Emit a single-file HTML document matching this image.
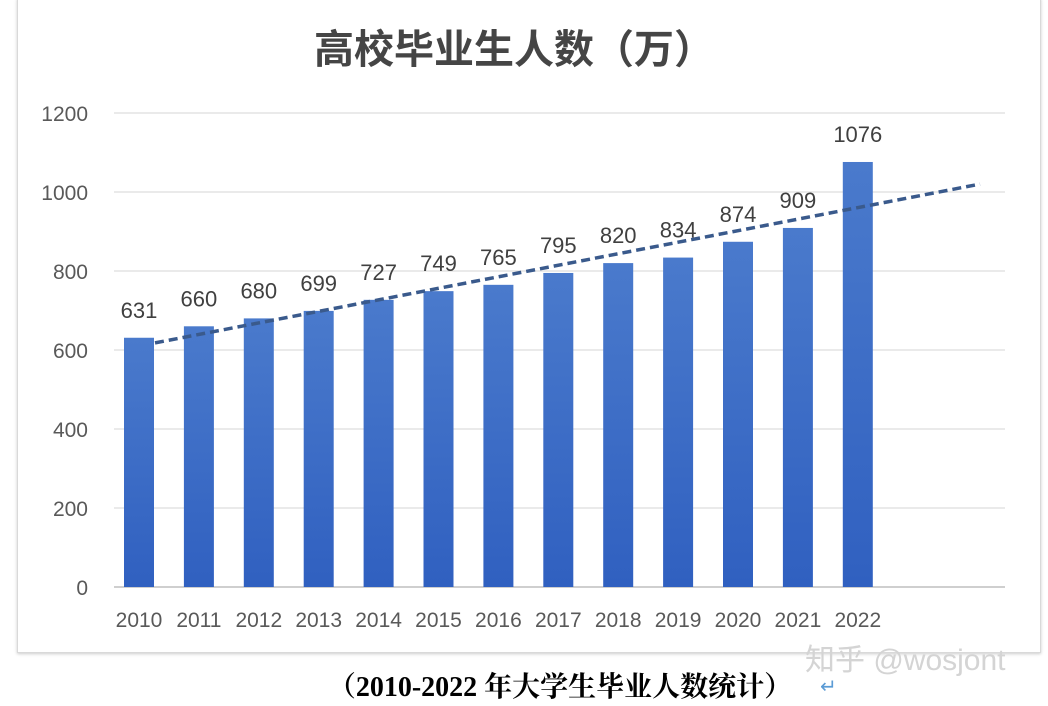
<!DOCTYPE html>
<html><head><meta charset="utf-8">
<style>
body{margin:0;width:1048px;height:706px;background:#fff;overflow:hidden;font-family:"Liberation Sans","Noto Sans CJK SC",sans-serif}
#frame{position:absolute;left:17px;top:-2px;width:1022px;height:653px;border:1px solid #d9d9d9;box-shadow:0 1px 3px #ccc}
</style></head><body>
<div id="frame"></div>
<svg id="chart" width="1048" height="706" style="position:absolute;left:0;top:0">
<text x="514" y="63" text-anchor="middle" font-size="40" font-weight="bold" fill="#454545" font-family="Liberation Sans,Noto Sans CJK SC,sans-serif">高校毕业生人数（万）</text>
<g id="grid"></g><g id="bars"></g><g id="labels"></g>
<text x="560" y="696" text-anchor="middle" font-size="28" font-weight="bold" fill="#000" font-family="Liberation Serif,Noto Serif CJK SC,serif">（2010-2022 年大学生毕业人数统计）</text>
<text x="820" y="693" font-size="20" fill="#5b9bd5">↵</text>
<text x="805" y="670" font-size="30" fill="#d4d4d4">知乎 @wosjont</text>
</svg>
<script>
const years=['2010','2011','2012','2013','2014','2015','2016','2017','2018','2019','2020','2021','2022'];
const values=[631,660,680,699,727,749,765,795,820,834,874,909,1076];
const yTicks=[0,200,400,600,800,1000,1200];
const NS='http://www.w3.org/2000/svg';
const y=v=>587-v*(587-113)/1200;
const x=i=>139+i*59.9;
function mk(t,a,p){const e=document.createElementNS(NS,t);for(const k in a)e.setAttribute(k,a[k]);p.appendChild(e);return e;}
const grid=document.getElementById('grid'),bars=document.getElementById('bars'),labels=document.getElementById('labels');
yTicks.forEach(v=>{
 const l=mk('line',{x1:114,x2:1005,y1:y(v),y2:y(v),stroke:v===0?'#cfcfcf':'#e3e3e3','stroke-width':v===0?2:1.5},grid);
 
 
 const t=mk('text',{x:88,y:y(v)+8,'text-anchor':'end','font-size':21,fill:'#595959'},grid);
 t.textContent=v;
 
 
});
const defs=mk('defs',{},bars);
const g=mk('linearGradient',{id:'bg',x1:0,y1:0,x2:0,y2:1},defs);
mk('stop',{offset:0,'stop-color':'#4a7acc'},g);mk('stop',{offset:1,'stop-color':'#3060c0'},g);
years.forEach((yr,i)=>{
 const r=mk('rect',{x:x(i)-15,y:y(values[i]),width:30,height:587-y(values[i]),fill:'url(#bg)'},bars);
 
 
 const t=mk('text',{x:x(i),y:y(values[i])-20,'text-anchor':'middle','font-size':22,fill:'#404040'},labels);
 t.textContent=values[i];
 
 
 const xt=mk('text',{x:x(i),y:627,'text-anchor':'middle','font-size':21,fill:'#595959'},labels);
 xt.textContent=yr;
 
 
});
const tl=mk('line',{x1:x(0)+16,y1:y(618),x2:980,y2:y(1020),stroke:'#3a5a8c','stroke-width':3.5,'stroke-dasharray':'9,5'},labels);


</script>
</body></html>
